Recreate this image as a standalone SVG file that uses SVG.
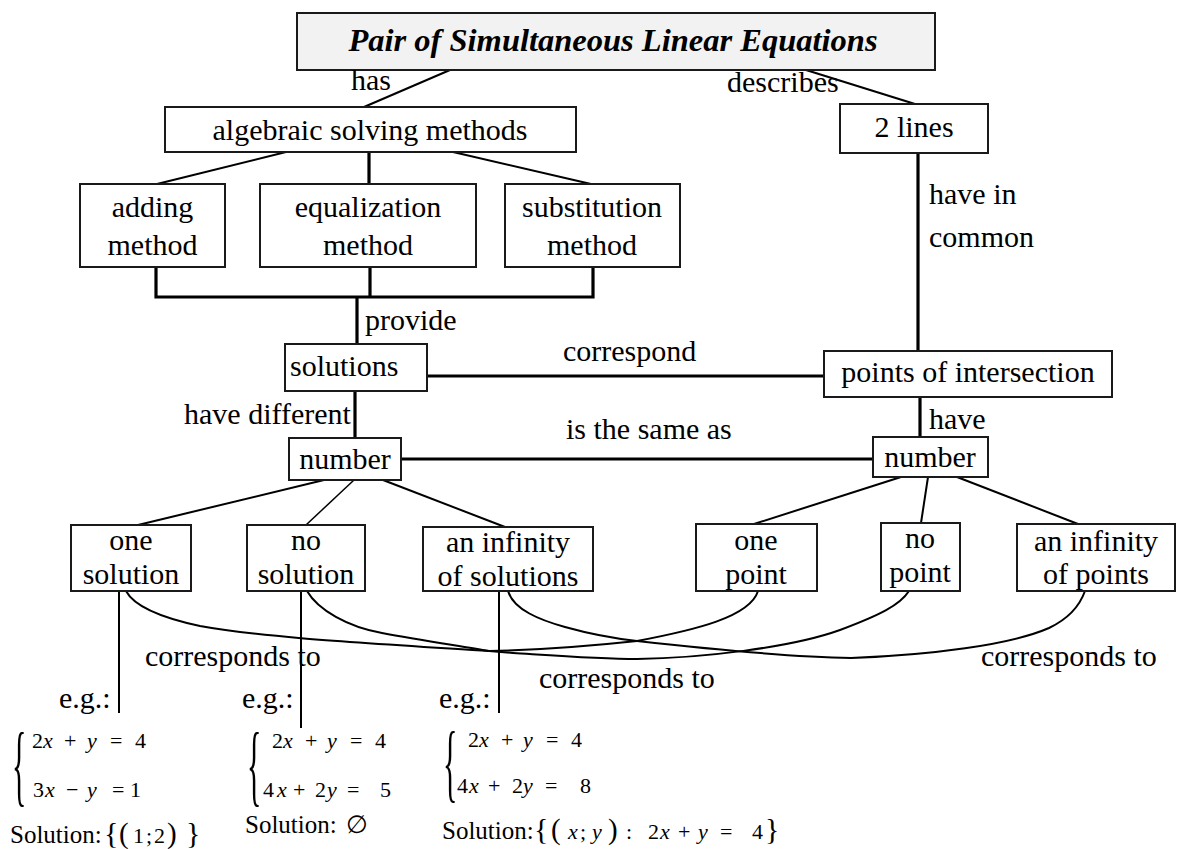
<svg xmlns="http://www.w3.org/2000/svg" width="1177" height="849" viewBox="0 0 1177 849">
<style>
text{font-family:"Liberation Serif","Times New Roman",serif;fill:#000}
.t{font-size:30px}
.c{text-anchor:middle}
.title{font-size:32.5px;font-weight:bold;font-style:italic;text-anchor:middle}
.box{fill:#fff;stroke:#1a1a1a;stroke-width:2}
.tbox{fill:#f2f2f2;stroke:#1a1a1a;stroke-width:2}
.thin{fill:none;stroke:#000;stroke-width:2}
.thick{fill:none;stroke:#000;stroke-width:3.2}
.hair{fill:none;stroke:#000;stroke-width:1.5}
.eq{font-size:22px}
.it{font-style:italic}
.sol{font-size:25px}
.br{font-size:30px}
.pa{font-size:29px}
</style>
<rect width="1177" height="849" fill="#fff"/>
<g id="connectors">
<path class="thin" d="M450,70 L364,107"/>
<path class="thin" d="M806,70 L915,104"/>
<path class="thin" d="M286,152 L157,184"/>
<path class="thick" d="M369,152 V184"/>
<path class="thin" d="M453,152 L591,184"/>
<path class="thick" d="M156,267 V297 H593 V267 M370,267 V297 M357,297 V344"/>
<path class="thick" d="M918,153 V351"/>
<path class="thick" d="M427,376 H824"/>
<path class="thick" d="M355,391 V438"/>
<path class="thick" d="M920,397 V437"/>
<path class="thick" d="M401,459 H873"/>
<path class="thin" d="M324,480 L138,525"/>
<path class="hair" d="M354,480 L306,525"/>
<path class="thin" d="M383,480 L505,527"/>
<path class="thin" d="M901,477 L754,524"/>
<path class="thin" d="M928,477 L921,523"/>
<path class="thin" d="M957,477 L1078,524"/>
<path class="thin" d="M119,591 V713 M301,591 V728 M499,591 V713"/>
<path class="thin" d="M126,591 C134,606 158,617 200,626 C260,637 350,642 489,651 C540,650 600,645 637,641 C695,630 750,617 758,591"/>
<path class="thin" d="M307,591 C318,610 348,627 382,633 C420,640 460,646 489,651 L513,653 C560,656 600,659 637,659 C700,658 790,648 840,630 C880,615 900,605 909,591"/>
<path class="thin" d="M508,591 C514,610 540,620 565,627 C590,634 610,638 637,641 C700,648 790,657 851,658 C930,655 1010,645 1049,628 C1070,618 1080,605 1085,591"/>
</g>
<g id="title"><rect class="tbox" x="297" y="13" width="638" height="57"/><text class="title" x="613" y="51">Pair of Simultaneous Linear Equations</text></g>
<g id="algebraic"><rect class="box" x="165" y="107" width="411" height="45"/><text class="t c" x="370" y="140">algebraic solving methods</text></g>
<g id="lines2"><rect class="box" x="840" y="104" width="148" height="49"/><text class="t c" x="914" y="137">2 lines</text></g>
<g id="adding"><rect class="box" x="80" y="184" width="145" height="83"/><text class="t c" x="152.5" y="217">adding</text><text class="t c" x="152.5" y="255">method</text></g>
<g id="equalization"><rect class="box" x="260" y="184" width="216" height="83"/><text class="t c" x="368" y="217">equalization</text><text class="t c" x="368" y="255">method</text></g>
<g id="substitution"><rect class="box" x="505" y="184" width="175" height="83"/><text class="t c" x="592" y="217">substitution</text><text class="t c" x="592" y="255">method</text></g>
<g id="solutions"><rect class="box" x="285" y="344" width="142" height="47"/><text class="t" x="290" y="376">solutions</text></g>
<g id="intersection"><rect class="box" x="824" y="351" width="288" height="46"/><text class="t c" x="968" y="382">points of intersection</text></g>
<g id="numberL"><rect class="box" x="289" y="438" width="112" height="42"/><text class="t c" x="345" y="469">number</text></g>
<g id="numberR"><rect class="box" x="873" y="437" width="115" height="40"/><text class="t c" x="930" y="467">number</text></g>
<g id="oneSolution"><rect class="box" x="71" y="525" width="120" height="66"/><text class="t c" x="131" y="550">one</text><text class="t c" x="131" y="584">solution</text></g>
<g id="noSolution"><rect class="box" x="247" y="525" width="118" height="66"/><text class="t c" x="306" y="550">no</text><text class="t c" x="306" y="584">solution</text></g>
<g id="infSolutions"><rect class="box" x="423" y="527" width="170" height="64"/><text class="t c" x="508" y="552">an infinity</text><text class="t c" x="508" y="586">of solutions</text></g>
<g id="onePoint"><rect class="box" x="696" y="524" width="121" height="67"/><text class="t c" x="756" y="550">one</text><text class="t c" x="756" y="584">point</text></g>
<g id="noPoint"><rect class="box" x="881" y="523" width="79" height="68"/><text class="t c" x="920" y="548">no</text><text class="t c" x="920" y="582">point</text></g>
<g id="infPoints"><rect class="box" x="1017" y="524" width="158" height="67"/><text class="t c" x="1096" y="551">an infinity</text><text class="t c" x="1096" y="584">of points</text></g>
<g id="labels">
<text class="t" x="351" y="90">has</text>
<text class="t" x="727" y="92">describes</text>
<text class="t" x="929" y="204">have in</text>
<text class="t" x="929" y="247">common</text>
<text class="t" x="365" y="330">provide</text>
<text class="t" x="563" y="361">correspond</text>
<text class="t" x="184" y="424">have different</text>
<text class="t" x="566" y="439">is the same as</text>
<text class="t" x="929" y="429">have</text>
<text class="t" x="145" y="666">corresponds to</text>
<text class="t" x="539" y="688">corresponds to</text>
<text class="t" x="981" y="666">corresponds to</text>
<text class="t" x="59" y="708">e.g.:</text>
<text class="t" x="242" y="708">e.g.:</text>
<text class="t" x="439" y="708">e.g.:</text>
</g>
<g id="example1">
<text transform="translate(12,795) scale(1,3)" style="font-size:30px">{</text>
<text class="eq" y="748"><tspan x="32">2</tspan><tspan x="43" class="it">x</tspan><tspan x="64">+</tspan><tspan x="87" class="it">y</tspan><tspan x="110">=</tspan><tspan x="135">4</tspan></text>
<text class="eq" y="797"><tspan x="33">3</tspan><tspan x="45" class="it">x</tspan><tspan x="66">−</tspan><tspan x="87" class="it">y</tspan><tspan x="112">=</tspan><tspan x="130">1</tspan></text>
<text class="sol" y="843"><tspan x="10">Solution:</tspan><tspan x="104" class="br">{</tspan><tspan x="119" class="pa">(</tspan><tspan x="133" class="eq">1</tspan><tspan x="146" class="eq">;</tspan><tspan x="154" class="eq">2</tspan><tspan x="167" class="pa">)</tspan><tspan x="186" class="br">}</tspan></text>
</g>
<g id="example2">
<text transform="translate(247,795) scale(1,3)" style="font-size:30px">{</text>
<text class="eq" y="748"><tspan x="272">2</tspan><tspan x="283" class="it">x</tspan><tspan x="305">+</tspan><tspan x="327" class="it">y</tspan><tspan x="350">=</tspan><tspan x="375">4</tspan></text>
<text class="eq" y="797"><tspan x="263">4</tspan><tspan x="277" class="it">x</tspan><tspan x="293">+</tspan><tspan x="315">2</tspan><tspan x="327" class="it">y</tspan><tspan x="347">=</tspan><tspan x="380">5</tspan></text>
<text class="sol" y="833"><tspan x="245">Solution:</tspan><tspan x="346">∅</tspan></text>
</g>
<g id="example3">
<text transform="translate(443,791) scale(1,2.9)" style="font-size:30px">{</text>
<text class="eq" y="747"><tspan x="468">2</tspan><tspan x="479" class="it">x</tspan><tspan x="501">+</tspan><tspan x="523" class="it">y</tspan><tspan x="546">=</tspan><tspan x="571">4</tspan></text>
<text class="eq" y="793"><tspan x="457">4</tspan><tspan x="469" class="it">x</tspan><tspan x="488">+</tspan><tspan x="512">2</tspan><tspan x="523" class="it">y</tspan><tspan x="545">=</tspan><tspan x="580">8</tspan></text>
<text class="sol" y="839"><tspan x="442">Solution:</tspan><tspan x="534" class="br">{</tspan><tspan x="551" class="pa">(</tspan><tspan x="568" class="eq it">x</tspan><tspan x="580" class="eq">;</tspan><tspan x="592" class="eq it">y</tspan><tspan x="608" class="pa">)</tspan><tspan x="626" class="eq">:</tspan><tspan x="648" class="eq">2</tspan><tspan x="660" class="eq it">x</tspan><tspan x="678" class="eq">+</tspan><tspan x="698" class="eq it">y</tspan><tspan x="720" class="eq">=</tspan><tspan x="752" class="eq">4</tspan><tspan x="765" class="br">}</tspan></text>
</g>
</svg>
